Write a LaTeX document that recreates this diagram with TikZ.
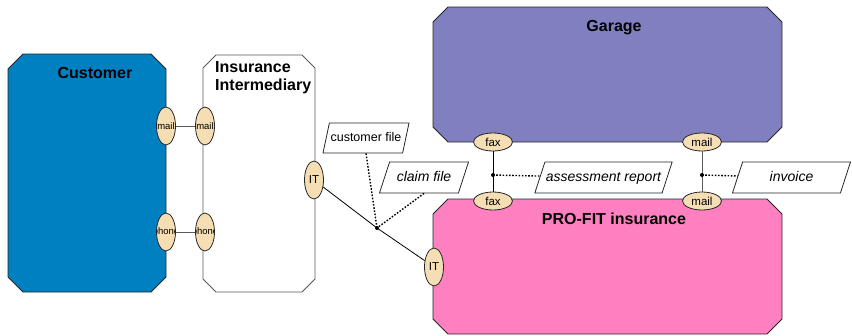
\documentclass[tikz,border=0pt]{standalone}
\usepackage{fontspec}
\setmainfont{Liberation Sans}
\usetikzlibrary{shapes.geometric}

\definecolor{custblue}{RGB}{0,128,192}
\definecolor{garageblue}{RGB}{128,128,192}
\definecolor{profitpink}{RGB}{255,128,192}
\definecolor{portfill}{RGB}{245,222,180}
\definecolor{edgegray}{RGB}{90,90,90}

\tikzset{
  actor/.style={draw=black!85, line width=0.9pt, line join=miter},
  title/.style={font=\fontsize{16}{18}\selectfont\bfseries, inner sep=0pt},
  port/.style={ellipse, draw=black!85, fill=portfill, line width=0.8pt, inner sep=0pt},
  hport/.style={port, minimum width=39pt, minimum height=18pt, font=\fontsize{11.5}{12}\selectfont},
  vport/.style={port, minimum width=19pt, minimum height=38pt, font=\fontsize{11.5}{12}\selectfont},
  clipped/.style={path picture={\node[font=\fontsize{9.5}{10}\selectfont, inner sep=0pt]
      at (path picture bounding box.center) {#1};}},
  doc/.style={trapezium, trapezium left angle=72, trapezium right angle=108,
      trapezium stretches body=true, draw=black!85, fill=white, line width=0.8pt,
      text height=10pt, text depth=3pt, inner ysep=9pt, inner xsep=1pt,
      font=\fontsize{14}{16}\selectfont\itshape},
  link/.style={draw=black, line width=0.8pt},
  flow/.style={draw=black, line width=1.4pt, dash pattern=on 1.6pt off 1.6pt}
}

\begin{document}
\begin{tikzpicture}[x=1pt, y=-1pt]
  \useasboundingbox (0,0) rectangle (852,335);

  % the four actors
  \draw[actor, fill=custblue] (8,69) -- (23,54) -- (151,54) -- (166,69)
    -- (166,277) -- (151,292) -- (23,292) -- (8,277) -- cycle;
  \draw[actor, draw=edgegray, fill=white] (203,68) -- (216,55) -- (302,55) -- (315,68)
    -- (315,279) -- (302,292) -- (216,292) -- (203,279) -- cycle;
  \draw[actor, fill=garageblue] (433,22) -- (448,7) -- (767,7) -- (782,22)
    -- (782,127) -- (767,142) -- (448,142) -- (433,127) -- cycle;
  \draw[actor, fill=profitpink] (433,214) -- (448,199) -- (767,199) -- (782,214)
    -- (782,319) -- (767,334) -- (448,334) -- (433,319) -- cycle;

  \node[title] (custtitle) at (95,73) {Customer};
  \node[title, anchor=north west, align=left] (intertitle) at (215,61)
    {Insurance\\Intermediary};
  \node[title] (garagetitle) at (614,28) {Garage};
  \node[title] (profittitle) at (614,219) {PRO-FIT insurance};

  % customer <-> intermediary
  \node[vport, clipped=mail] (cmail) at (166,126) {};
  \node[vport, clipped=mail] (imail) at (205,126) {};
  \node[vport, clipped=phone] (cphone) at (166,232) {};
  \node[vport, clipped=phone] (iphone) at (205,232) {};
  \draw[link, draw=edgegray] (cmail) -- (imail);
  \draw[link, draw=edgegray] (cphone) -- (iphone);

  % intermediary <-> insurance
  \node[vport] (iit) at (314,180) {IT};
  \node[vport] (pit) at (434,267) {IT};
  \coordinate (itdot) at (377,228);
  \draw[link] (iit) -- (itdot) -- (pit);
  \fill (itdot) circle (2pt);
  \node[doc, minimum width=86pt, trapezium left angle=78, trapezium right angle=102,
    inner ysep=8.5pt, font=\fontsize{12.5}{14}\selectfont] (custfile) at (366,138) {customer file};
  \node[doc, minimum width=89pt] (claimfile) at (424,177.5) {claim file};
  \draw[flow] (custfile.south) -- (itdot);
  \draw[flow] (claimfile.south) -- (itdot);

  % garage <-> insurance
  \node[hport] (gfax) at (493,142) {fax};
  \node[hport] (gmail) at (702,142) {mail};
  \node[hport] (pfax) at (493,201) {fax};
  \node[hport] (pmail) at (702,201) {mail};
  \coordinate (faxdot) at (493,175);
  \coordinate (maildot) at (702,175);
  \draw[link] (gfax) -- (pfax);
  \draw[link, draw=edgegray] (gmail) -- (pmail);
  \fill (faxdot) circle (2pt);
  \fill (maildot) circle (2pt);
  \node[doc, minimum width=133pt] (report) at (603.5,177.5) {assessment report};
  \node[doc, minimum width=118pt] (invoice) at (791.5,177.5) {invoice};
  \draw[flow] (faxdot) -- (report);
  \draw[flow] (maildot) -- (invoice);
\end{tikzpicture}
\end{document}
